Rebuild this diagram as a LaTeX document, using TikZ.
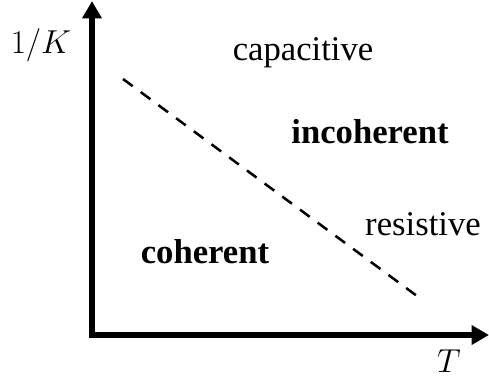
\documentclass[tikz,border=0pt]{standalone}
\usepackage{fontspec}
\setmainfont{Liberation Serif}
\usetikzlibrary{arrows.meta, positioning}
\definecolor{AxisBlack}{HTML}{000000}
\tikzset{
  regionlabel/.style={anchor=base, inner sep=0pt, font=\fontsize{26}{30}\selectfont},
  phaselabel/.style={anchor=base, inner sep=0pt, font=\fontsize{26}{30}\selectfont\bfseries},
  axislabel/.style={anchor=base, inner sep=0pt, font=\fontsize{28}{32}\selectfont},
  axisarrow/.style={{Triangle[length=13pt, width=14pt]}-{Triangle[length=13pt, width=14pt]}, line width=4.5pt, draw=AxisBlack},
  boundary/.style={dash pattern=on 9pt off 7.5pt, line width=1.9pt, draw=AxisBlack}
}
\begin{document}
\begin{tikzpicture}[x=0.75pt, y=-0.75pt]
\useasboundingbox (0,0) rectangle (489,379);
\coordinate (ytop) at (92,1);
\coordinate (origin) at (92,335);
\coordinate (xend) at (489,335);
\coordinate (linestart) at (123,79);
\coordinate (lineend) at (417,296);
\draw[axisarrow] (ytop) -- (origin) -- (xend);
\draw[boundary] (linestart) -- (lineend);
\node[axislabel] (invk) at (41,53) {$1/K$};
\node[axislabel] (temp) at (449,372) {$T$};
\node[regionlabel] (capacitive) at (303,60) {capacitive};
\node[phaselabel] (incoherent) at (370,143) {incoherent};
\node[regionlabel] (resistive) at (423,235) {resistive};
\node[phaselabel] (coherent) at (205,263) {coherent};
\end{tikzpicture}
\end{document}
